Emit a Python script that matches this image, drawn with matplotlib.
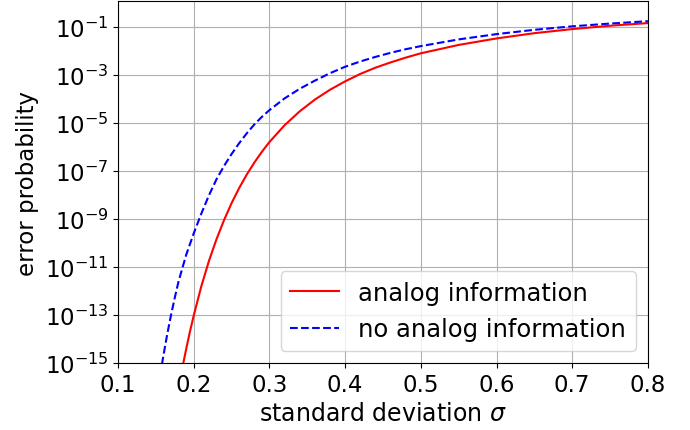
import numpy as np
import matplotlib
matplotlib.use("Agg")
import matplotlib.pyplot as plt

# values (sigma, log10 of error probability)
sigma_analog = [0.186, 0.19, 0.195, 0.2, 0.21, 0.22, 0.23, 0.24, 0.25, 0.26,
                0.27, 0.28, 0.29, 0.30, 0.32, 0.34, 0.36, 0.38, 0.40, 0.42,
                0.44, 0.46, 0.48, 0.50, 0.55, 0.60, 0.65, 0.70, 0.75, 0.80]
logp_analog = [-15.05, -14.43, -13.70, -13.03, -11.81, -10.76, -9.85, -9.05, -8.34, -7.71,
               -7.15, -6.65, -6.20, -5.79, -5.09, -4.51, -4.02, -3.61, -3.26, -2.95,
               -2.69, -2.47, -2.27, -2.09, -1.74, -1.47, -1.25, -1.08, -0.94, -0.83]

sigma_noanalog = [0.158, 0.16, 0.165, 0.17, 0.175, 0.18, 0.19, 0.20, 0.21, 0.22,
                  0.23, 0.24, 0.25, 0.26, 0.27, 0.28, 0.29, 0.30, 0.32, 0.34,
                  0.36, 0.38, 0.40, 0.42, 0.44, 0.46, 0.48, 0.50, 0.55, 0.60,
                  0.65, 0.70, 0.75, 0.80]
logp_noanalog = [-15.06, -14.69, -13.81, -13.01, -12.28, -11.60, -10.50, -9.60, -8.78, -8.02,
                 -7.35, -6.79, -6.29, -5.84, -5.43, -5.06, -4.74, -4.46, -3.97, -3.57,
                 -3.23, -2.92, -2.65, -2.43, -2.24, -2.07, -1.92, -1.79, -1.51, -1.29,
                 -1.11, -0.965, -0.85, -0.75]

p_analog = 10.0 ** np.array(logp_analog)
p_noanalog = 10.0 ** np.array(logp_noanalog)

fig = plt.figure(figsize=(6.9, 4.31), dpi=100)
ax = fig.add_axes([0.171, 0.1555, 0.768, 0.839])

ax.semilogy(sigma_analog, p_analog, "r-", lw=1.5, label="analog information")
ax.semilogy(sigma_noanalog, p_noanalog, "b--", lw=1.5, label="no analog information")

ax.set_xlim(0.1, 0.8)
ax.set_ylim(1e-15, 1.19)
ax.set_yticks(10.0 ** np.arange(-15, 0, 2))
ax.minorticks_off()
ax.tick_params(labelsize=16.5)
ax.grid(True)
ax.set_xlabel(r"standard deviation $\sigma$", fontsize=17)
ax.set_ylabel("error probability", fontsize=16.5)
ax.legend(loc="lower right", fontsize=17.5)

fig.savefig("out.png", dpi=100)
